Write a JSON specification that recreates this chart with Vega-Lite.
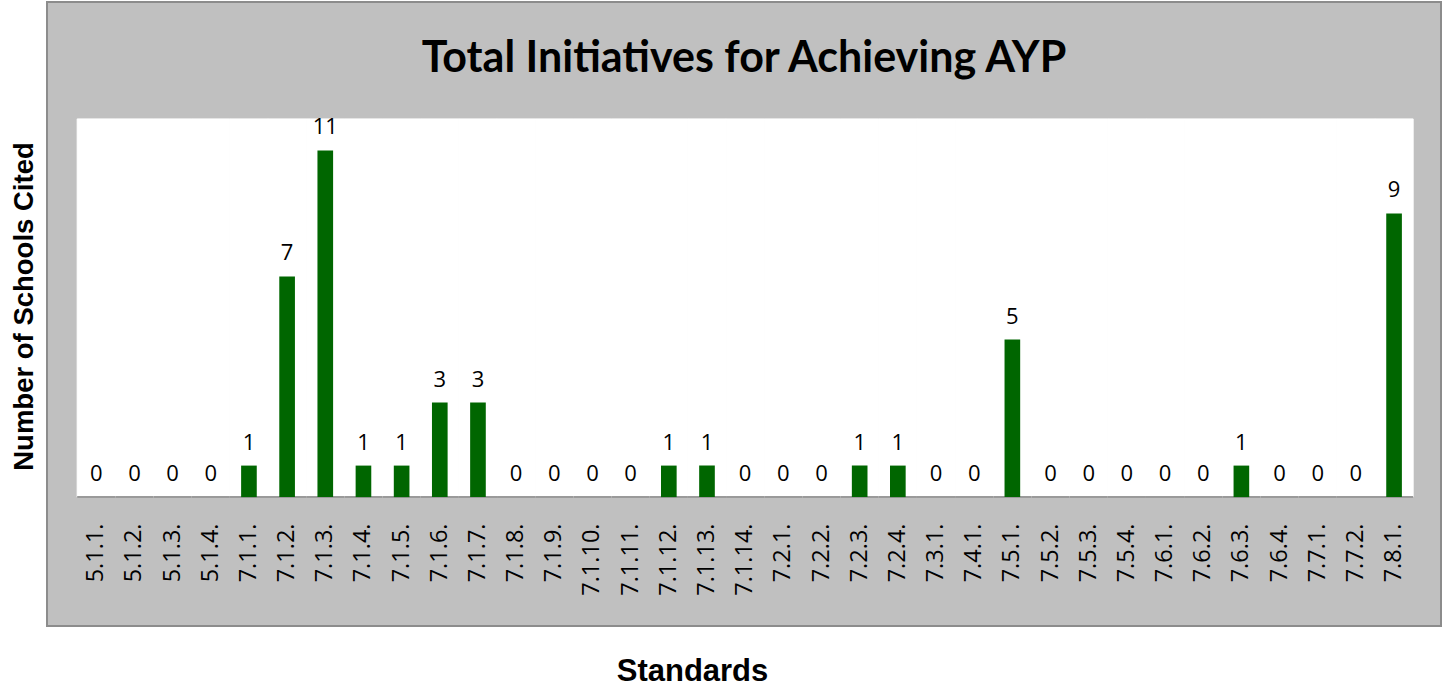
{
  "$schema": "https://vega.github.io/schema/vega-lite/v6.json",
  "width": 1394,
  "height": 624,
  "autosize": {"type": "none"},
  "padding": {"left": 47, "top": 2, "right": 8, "bottom": 62},
  "background": "white",
  "config": {
    "view": {"fill": "#c0c0c0", "stroke": "#8c8c8c", "strokeWidth": 2}
  },
  "title": {
    "text": "Total Initiatives for Achieving AYP",
    "font": "Lato",
    "fontSize": 43,
    "fontWeight": "bold",
    "color": "#000000",
    "anchor": "middle",
    "frame": "group",
    "offset": -70,
    "dy": 43,
    "baseline": "alphabetic"
  },
  "data": {
    "values": [
      {"standard": "5.1.1.", "count": 0},
      {"standard": "5.1.2.", "count": 0},
      {"standard": "5.1.3.", "count": 0},
      {"standard": "5.1.4.", "count": 0},
      {"standard": "7.1.1.", "count": 1},
      {"standard": "7.1.2.", "count": 7},
      {"standard": "7.1.3.", "count": 11},
      {"standard": "7.1.4.", "count": 1},
      {"standard": "7.1.5.", "count": 1},
      {"standard": "7.1.6.", "count": 3},
      {"standard": "7.1.7.", "count": 3},
      {"standard": "7.1.8.", "count": 0},
      {"standard": "7.1.9.", "count": 0},
      {"standard": "7.1.10.", "count": 0},
      {"standard": "7.1.11.", "count": 0},
      {"standard": "7.1.12.", "count": 1},
      {"standard": "7.1.13.", "count": 1},
      {"standard": "7.1.14.", "count": 0},
      {"standard": "7.2.1.", "count": 0},
      {"standard": "7.2.2.", "count": 0},
      {"standard": "7.2.3.", "count": 1},
      {"standard": "7.2.4.", "count": 1},
      {"standard": "7.3.1.", "count": 0},
      {"standard": "7.4.1.", "count": 0},
      {"standard": "7.5.1.", "count": 5},
      {"standard": "7.5.2.", "count": 0},
      {"standard": "7.5.3.", "count": 0},
      {"standard": "7.5.4.", "count": 0},
      {"standard": "7.6.1.", "count": 0},
      {"standard": "7.6.2.", "count": 0},
      {"standard": "7.6.3.", "count": 1},
      {"standard": "7.6.4.", "count": 0},
      {"standard": "7.7.1.", "count": 0},
      {"standard": "7.7.2.", "count": 0},
      {"standard": "7.8.1.", "count": 9}
    ]
  },
  "encoding": {
    "x": {
      "field": "standard",
      "type": "nominal",
      "sort": null,
      "scale": {"paddingInner": 0, "paddingOuter": 0.76, "align": 0.52},
      "axis": {
        "orient": "bottom",
        "offset": -129,
        "labelAngle": -90,
        "labelFont": "Open Sans",
        "labelFontSize": 23.5,
        "labelColor": "#000000",
        "labelPadding": 26,
        "ticks": false,
        "tickSize": 0,
        "domain": false,
        "grid": false,
        "title": "Standards",
        "titleFont": "Liberation Sans",
        "titleFontSize": 31,
        "titleFontWeight": "bold",
        "titleColor": "#000000",
        "titleX": 645,
        "titleY": 183,
        "titleAlign": "center",
        "titleBaseline": "alphabetic"
      }
    },
    "y": {
      "field": "count",
      "type": "quantitative",
      "scale": {"domain": [-4.09, 15.71], "nice": false, "zero": false},
      "axis": {
        "labels": false,
        "ticks": false,
        "domain": false,
        "grid": false,
        "title": "Number of Schools Cited",
        "titleFont": "Liberation Sans",
        "titleFontSize": 27.5,
        "titleFontWeight": "bold",
        "titleColor": "#000000",
        "titleX": -15,
        "titleY": 304,
        "titleAlign": "center",
        "titleBaseline": "alphabetic",
        "titleAngle": -90
      }
    }
  },
  "layer": [
    {
      "mark": {"type": "bar", "fill": "#ffffff", "stroke": "#ffffff", "strokeWidth": 1, "width": {"band": 1}},
      "encoding": {
        "y": {
          "datum": 0,
          "type": "quantitative",
          "scale": {"domain": [-4.09, 15.71], "nice": false, "zero": false},
          "axis": {
            "labels": false,
            "ticks": false,
            "domain": false,
            "grid": false,
            "title": "Number of Schools Cited",
            "titleFont": "Liberation Sans",
            "titleFontSize": 27.5,
            "titleFontWeight": "bold",
            "titleColor": "#000000",
            "titleX": -15,
            "titleY": 304,
            "titleAlign": "center",
            "titleBaseline": "alphabetic",
            "titleAngle": -90
          }
        },
        "y2": {"datum": 12}
      }
    },
    {
      "mark": {"type": "tick", "orient": "horizontal", "size": 38.2, "thickness": 2, "color": "#9a9a9a", "opacity": 1},
      "encoding": {
        "y": {"datum": 0, "type": "quantitative"}
      }
    },
    {
      "mark": {"type": "bar", "color": "#006600", "width": {"band": 0.41}}
    },
    {
      "mark": {"type": "text", "dy": -16, "baseline": "alphabetic", "font": "Open Sans", "fontSize": 22, "color": "#000000"},
      "encoding": {
        "text": {"field": "count", "type": "quantitative"}
      }
    }
  ]
}
